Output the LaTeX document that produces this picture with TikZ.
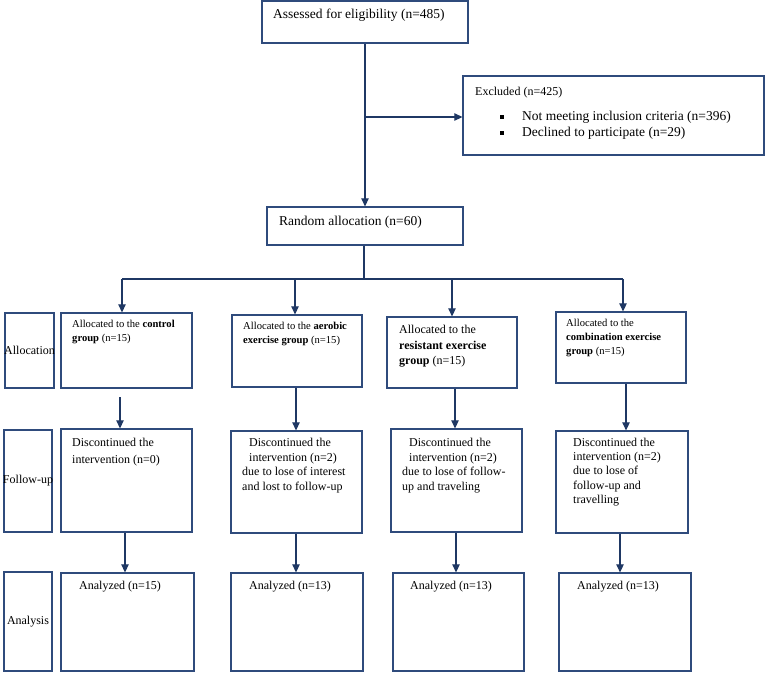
\documentclass[tikz,border=0pt]{standalone}
\usepackage{fontspec}
\setmainfont{Liberation Serif}
\usetikzlibrary{arrows.meta}
\definecolor{boxc}{HTML}{2F4B7C}
\definecolor{arrc}{HTML}{1F3864}
\newcommand{\fbx}[5]{\node[boxst,minimum width={(#4)-(#2)},minimum height={(#5)-(#3)}] (#1) at ({((#2)+(#4))/2},{((#3)+(#5))/2}) {};}
\newcommand{\sq}{\raisebox{1.8pt}{\rule{4pt}{4pt}}}
\begin{document}
\begin{tikzpicture}[x=1pt,y=-1pt,
  boxst/.style={draw=boxc,line width=1.3pt,inner sep=0pt,fill=white},
  txt/.style={inner sep=0pt,font=\fontsize{12}{14.5}\selectfont,align=left},
  btxt/.style={inner sep=0pt,font=\fontsize{13.5}{16}\selectfont,align=left},
  stxt/.style={inner sep=0pt,font=\fontsize{10.6}{14}\selectfont,align=left},
  arr/.style={draw=arrc,line width=1.2pt,-{Triangle[width=7.5pt,length=8pt]}},
  ln/.style={draw=arrc,line width=1.2pt}]
\useasboundingbox (0,0) rectangle (765,672);
% boxes
\fbx{top}{262}{1}{468}{43}
\fbx{excl}{463}{76}{764}{155}
\fbx{rand}{267}{207}{463}{245}
\fbx{lab1}{5}{313}{54}{388}
\fbx{a1}{61}{313}{192}{388}
\fbx{a2}{232}{315}{362}{387}
\fbx{a3}{387}{317}{517}{388}
\fbx{a4}{556}{312}{686}{383}
\fbx{lab2}{4}{430}{52}{532}
\fbx{f1}{61}{429}{192}{532}
\fbx{f2}{231}{431}{362}{533}
\fbx{f3}{391}{429}{522}{532}
\fbx{f4}{556}{431}{688}{533}
\fbx{lab3}{4}{572}{52}{671}
\fbx{n1}{61}{573}{194}{671}
\fbx{n2}{231}{573}{363}{671}
\fbx{n3}{393}{573}{524}{671}
\fbx{n4}{559}{573}{691}{671}
% texts
\node[btxt,anchor=west] (ttop) at (273,15) {Assessed for eligibility (n=485)};
\node[txt,anchor=west] (texc) at (475,93) {Excluded (n=425)};
\node[btxt,anchor=north west] (tbul) at (500,111) {\sq\hspace{18pt}Not meeting inclusion criteria (n=396)\\ \sq\hspace{18pt}Declined to participate (n=29)};
\node[btxt,anchor=west] (trand) at (279,222) {Random allocation (n=60)};
\node[txt] (tl1) at (lab1) {Allocation};
\node[txt] (tl2) at (lab2) {Follow-up};
\node[txt] (tl3) at (lab3) {Analysis};
\node[stxt,anchor=north west] (ta1) at (72,320) {Allocated to the \textbf{control}\\\textbf{group} (n=15)};
\node[stxt,anchor=north west] (ta2) at (243,322) {Allocated to the \textbf{aerobic}\\\textbf{exercise group} (n=15)};
\node[txt,font=\fontsize{12}{15.5}\selectfont,anchor=north west] (ta3) at (399,325) {Allocated to the\\\textbf{resistant exercise}\\\textbf{group} (n=15)};
\node[stxt,anchor=north west] (ta4) at (566,319) {Allocated to the\\\textbf{combination exercise}\\\textbf{group} (n=15)};
\node[txt,font=\fontsize{12}{17}\selectfont,anchor=north west] (tf1) at (72,438) {Discontinued the\\intervention (n=0)};
\node[txt,anchor=north west] (tf2) at (242,438) {\hspace*{7pt}Discontinued the\\\hspace*{7pt}intervention (n=2)\\due to lose of interest\\and lost to follow-up};
\node[txt,anchor=north west] (tf3) at (402,438) {\hspace*{7pt}Discontinued the\\\hspace*{7pt}intervention (n=2)\\due to lose of follow-\\up and traveling};
\node[txt,font=\fontsize{12}{14.2}\selectfont,anchor=north west] (tf4) at (573,438) {Discontinued the\\intervention (n=2)\\due to lose of\\follow-up and\\travelling};
\node[txt,anchor=west] (tn1) at (79,587) {Analyzed (n=15)};
\node[txt,anchor=west] (tn2) at (249,587) {Analyzed (n=13)};
\node[txt,anchor=west] (tn3) at (410,587) {Analyzed (n=13)};
\node[txt,anchor=west] (tn4) at (577,587) {Analyzed (n=13)};
% connectors
\coordinate (br) at (366,117);
\coordinate (hb) at (364,279);
\coordinate (hl) at (122,279);
\coordinate (hr) at (623,279);
\coordinate (c1) at (120,397);
\draw[arr] (top.south) -- (rand.north);
\draw[arr] (br) -- (excl.west |- br);
\draw[ln] (rand.south -| hb) -- (hb);
\draw[ln] (hl) -- (hr);
\draw[arr] (hl) -- (a1.north -| hl);
\draw[arr] (295,279) -- (a2.north -| 295,0);
\draw[arr] (452,279) -- (a3.north -| 452,0);
\draw[arr] (hr) -- (a4.north -| hr);
\draw[arr] (c1) -- (f1.north -| c1);
\draw[arr] (a2.south -| 296,0) -- (f2.north -| 296,0);
\draw[arr] (a3.south -| 455,0) -- (f3.north -| 455,0);
\draw[arr] (a4.south -| 626,0) -- (f4.north -| 626,0);
\draw[arr] (f1.south -| 125,0) -- (n1.north -| 125,0);
\draw[arr] (f2.south -| 296,0) -- (n2.north -| 296,0);
\draw[arr] (f3.south -| 456,0) -- (n3.north -| 456,0);
\draw[arr] (f4.south -| 620,0) -- (n4.north -| 620,0);
\end{tikzpicture}
\end{document}
